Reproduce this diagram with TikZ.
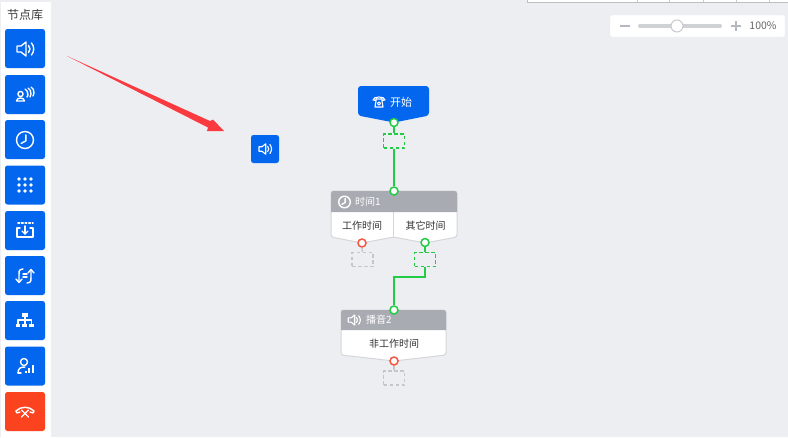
\documentclass[tikz,border=0pt]{standalone}
\usepackage{fontspec}
\setmainfont{Noto Sans CJK SC}
\definecolor{canvasbg}{HTML}{ECEEF2}
\definecolor{nodeblue}{HTML}{0366EE}
\definecolor{nodered}{HTML}{FC4320}
\definecolor{headgray}{HTML}{A9ABB3}
\definecolor{linegreen}{HTML}{22CC44}
\definecolor{portred}{HTML}{F4573F}
\definecolor{slotgray}{HTML}{C4C6CC}
\definecolor{cardedge}{HTML}{D5D6DA}
\definecolor{zoomgray}{HTML}{B4B8C0}
\definecolor{arrowred}{HTML}{F93A3E}
\tikzset{
  toolbtn/.style={fill=nodeblue,rounded corners=2.5pt,minimum width=40pt,minimum height=39pt,inner sep=0pt},
  icon/.style={draw=white,line width=1.4pt,line cap=round,line join=round},
  port/.style={circle,draw=linegreen,fill=white,line width=1.5pt,minimum size=8pt,inner sep=0pt},
  redport/.style={port,draw=portred},
  slot/.style={draw=linegreen,dash pattern=on 3.5pt off 2.5pt,line width=1.4pt,minimum width=21pt,minimum height=14pt,inner sep=0pt},
  emptyslot/.style={slot,draw=slotgray},
  wire/.style={draw=linegreen,line width=1.6pt},
  card/.style={fill=white,draw=cardedge,line width=1pt,rounded corners=2.5pt},
  label/.style={font=\fontsize{10}{10}\selectfont,text=black!80,inner sep=0pt},
  headlabel/.style={font=\fontsize{10}{10}\selectfont,text=white,inner sep=0pt},
}
\newcommand{\iconspeaker}[1]{\begin{scope}[shift={#1},icon]
\draw (-8,-3) -- (-4,-3) -- (1,-7) -- (1,7) -- (-4,3) -- (-8,3) -- cycle;
\draw (3.5,-3.5) .. controls (5.5,-1) and (5.5,1) .. (3.5,3.5);
\draw (6.5,-6) .. controls (9.5,-2) and (9.5,2) .. (6.5,6);
\end{scope}}
\newcommand{\iconclock}[2]{\begin{scope}[shift={#1},icon]
\draw (0,0) circle (#2);
\draw (0.1*#2,-0.6*#2) -- (0.1*#2,0.1*#2) -- (-0.45*#2,0.4*#2);
\end{scope}}
\begin{document}
\begin{tikzpicture}[x=1pt,y=-1pt]
\useasboundingbox (0,0) rectangle (788,437);
\fill[canvasbg] (0,0) rectangle (788,437);

% sidebar
\fill[white] (1,2) rectangle (51,437);
\node[font=\fontsize{12}{12}\selectfont,text=black!75,inner sep=0pt] (libtitle) at (25,15) {节点库};
\foreach \n/\y in {1/48.5,2/94.5,3/139.5,4/185,5/230.5,6/275.5,7/320.5,8/366} {
  \node[toolbtn] (btn\n) at (25,\y) {};
}
\node[toolbtn,fill=nodered] (btn9) at (25,411.5) {};

% sidebar icons
\iconspeaker{(25,49)}
\begin{scope}[shift={(25,95)},icon]
\draw (-4.5,-1) circle (2.6);
\draw (-8.5,6) .. controls (-8.5,2) and (-0.5,2) .. (-0.5,6) -- cycle;
\draw (0,-6) .. controls (3,-5) and (2,-3) .. (3,0) (3,0) -- (2,2);
\draw (3,-7) .. controls (6,-6) and (5,-4) .. (6,-1) (6,-1) -- (5,2);
\draw (6,-8) .. controls (9,-7) and (8,-5) .. (9,-2) (9,-2) -- (8,1);
\end{scope}
\iconclock{(25,140)}{8.5}
\foreach \x in {-6,0,6} {
  \foreach \y in {-6,0,6} {
    \fill[white] (25+\x,185+\y) circle (1.8);
  }
}
\begin{scope}[shift={(25,231)},icon]
\draw[dotted,line width=1.6pt] (-7,-8) -- (8,-8);
\draw (-8,-3) -- (-8,6) -- (8,6) -- (8,-3) -- (5,-3);
\draw (-5,-3) -- (-8,-3);
\draw (0,-5) -- (0,3);
\draw (-3,0) -- (0,3) -- (3,0);
\end{scope}
\begin{scope}[shift={(25,276)},icon]
\draw (-2,-7) .. controls (-7,-7) and (-6,-3) .. (-6,0) -- (-6,6);
\draw (-9,3) -- (-6,6.5) -- (-3,3);
\draw (2,7) .. controls (7,7) and (6,3) .. (6,0) -- (6,-6);
\draw (3,-3) -- (6,-6.5) -- (9,-3);
\draw (-2,-2) -- (2,-2) (-2,1) -- (2,1);
\end{scope}
\begin{scope}[shift={(25,321)}]
\fill[white] (-3,-8) rectangle (3,-4);
\fill[white] (-9,3) rectangle (-5,6);
\fill[white] (-3,3) rectangle (2,6);
\fill[white] (4,3) rectangle (9,6);
\draw[icon,line width=1.1pt] (0,-4) -- (0,3) (-7,3) -- (-7,-1) -- (6.5,-1) -- (6.5,3);
\end{scope}
\begin{scope}[shift={(25,366)},icon]
\draw (-1,-4) circle (3.5);
\draw (-7,7) .. controls (-7,2) and (-4,1) .. (0,1);
\draw (-7,7) -- (-4,7);
\draw[line width=1.8pt,line cap=butt] (1,7) -- (1,4.5) (4.3,7) -- (4.3,2) (7.7,7) -- (7.7,-1);
\end{scope}
\begin{scope}[shift={(25,412)},icon]
\draw (-9,-1) .. controls (-4,-6) and (4,-6) .. (9,-1) -- (8,1) -- (5,0);
\draw (-5,0) -- (-8,1) -- (-9,-1);
\draw (-3.5,-2) -- (3.5,5) (3.5,-2) -- (-3.5,5);
\end{scope}

% red arrow and dragged node
\fill[arrowred] (67,56) -- (210,121) -- (213,119.5) -- (224,131) -- (207,131) -- (208,127.5) -- cycle;
\node[toolbtn,minimum width=28pt,minimum height=28pt] (dragbtn) at (265,149) {};
\begin{scope}[shift={(265,149)},icon,scale=.75,line width=1.1pt]
\draw (-8,-3) -- (-4,-3) -- (1,-7) -- (1,7) -- (-4,3) -- (-8,3) -- cycle;
\draw (3.5,-3.5) .. controls (5.5,-1) and (5.5,1) .. (3.5,3.5);
\draw (6.5,-6) .. controls (9.5,-2) and (9.5,2) .. (6.5,6);
\end{scope}

% top strip
\fill[white] (527,0) rectangle (788,2);
\draw[black!25!white,line width=.6pt] (527,0) -- (527,2) -- (788,2);
\foreach \x in {637,669,703,736,769} {
  \draw[black!20!white,line width=.4pt] (\x,0) -- (\x,2);
}

% zoom bar
\fill[white,draw=black!7!white,rounded corners=1.5pt] (610,15) rectangle (785,37);
\draw[zoomgray,line width=1.3pt] (620,26) -- (630,26);
\draw[black!12!canvasbg,line width=4pt,line cap=round] (640,26) -- (720,26);
\node[circle,draw=black!15!canvasbg,fill=white,line width=1pt,minimum size=12pt,inner sep=0pt] (zoomknob) at (677,26) {};
\draw[zoomgray,line width=1.3pt] (731,26) -- (741,26) (736,21) -- (736,31);
\node[font=\fontsize{10.5}{10.5}\selectfont,text=black!60,inner sep=0pt] (zoomtext) at (763,26) {100\%};

% start node
\fill[nodeblue,rounded corners=3pt] (358,86) -- (429,86) -- (429,115.5) -- (394,122.5) -- (358,115.5) -- cycle;
\begin{scope}[shift={(379,102)},icon,line width=1.1pt]
\draw (-6,-2) .. controls (-6,-6) and (6,-6) .. (6,-2) -- (3,-1.5) -- (3,-3) -- (-3,-3) -- (-3,-1.5) -- cycle;
\draw (-3,-1) -- (-4,5) -- (4,5) -- (3,-1);
\draw (0,1.5) circle (1.6);
\end{scope}
\node[font=\fontsize{11}{11}\selectfont,text=white,inner sep=0pt] (starttext) at (401,102) {开始};

% time node
\fill[card] (331,191) -- (457,191) -- (457,237) -- (425,243) -- (393.5,237) -- (362,243) -- (331,237) -- cycle;
\draw[cardedge,line width=1pt] (393.5,212) -- (393.5,237);
\fill[headgray] (331,212) [rounded corners=2.5pt] -- (331,191) -- (457,191) [sharp corners] -- (457,212) -- cycle;
\iconclock{(344.5,202)}{5.8}
\node[headlabel,anchor=west] (timetext) at (355,202) {时间1};
\node[label] (worktext) at (362,225.5) {工作时间};
\node[label] (othertext) at (425.5,225.5) {其它时间};

% play node
\fill[card] (341,310) -- (446,310) -- (446,355) -- (394,361) -- (341,355) -- cycle;
\fill[headgray] (341,330) [rounded corners=2.5pt] -- (341,310) -- (446,310) [sharp corners] -- (446,330) -- cycle;
\begin{scope}[shift={(354,320)},icon,scale=.72,line width=1.1pt]
\draw (-8,-3) -- (-4,-3) -- (1,-7) -- (1,7) -- (-4,3) -- (-8,3) -- cycle;
\draw (3.5,-3.5) .. controls (5.5,-1) and (5.5,1) .. (3.5,3.5);
\draw (6.5,-6) .. controls (9.5,-2) and (9.5,2) .. (6.5,6);
\end{scope}
\node[headlabel,anchor=west] (playtext) at (366,320) {播音2};
\node[label] (nonworktext) at (394,343.5) {非工作时间};

% ports and slots
\node[port] (startout) at (394,122.5) {};
\node[slot] (startslot) at (394,141) {};
\node[port] (timein) at (394,191) {};
\node[redport] (workout) at (362,243) {};
\node[emptyslot] (workslot) at (362.5,259.5) {};
\node[port] (otherout) at (425,242.5) {};
\node[slot] (otherslot) at (425,259.5) {};
\node[port] (playin) at (394,310) {};
\node[redport] (playout) at (394,361) {};
\node[emptyslot] (playslot) at (394,378) {};

% connectors
\draw[wire] (startout) -- (startslot);
\draw[wire] (startslot) -- (timein);
\draw[wire] (otherout) -- (otherslot);
\draw[wire] (otherslot.south) -- ++(0,9.5) -| (playin.north);
\draw[slotgray,line width=1.4pt] (workout) -- (workslot);
\draw[slotgray,line width=1.4pt] (playout) -- (playslot);
\end{tikzpicture}
\end{document}
